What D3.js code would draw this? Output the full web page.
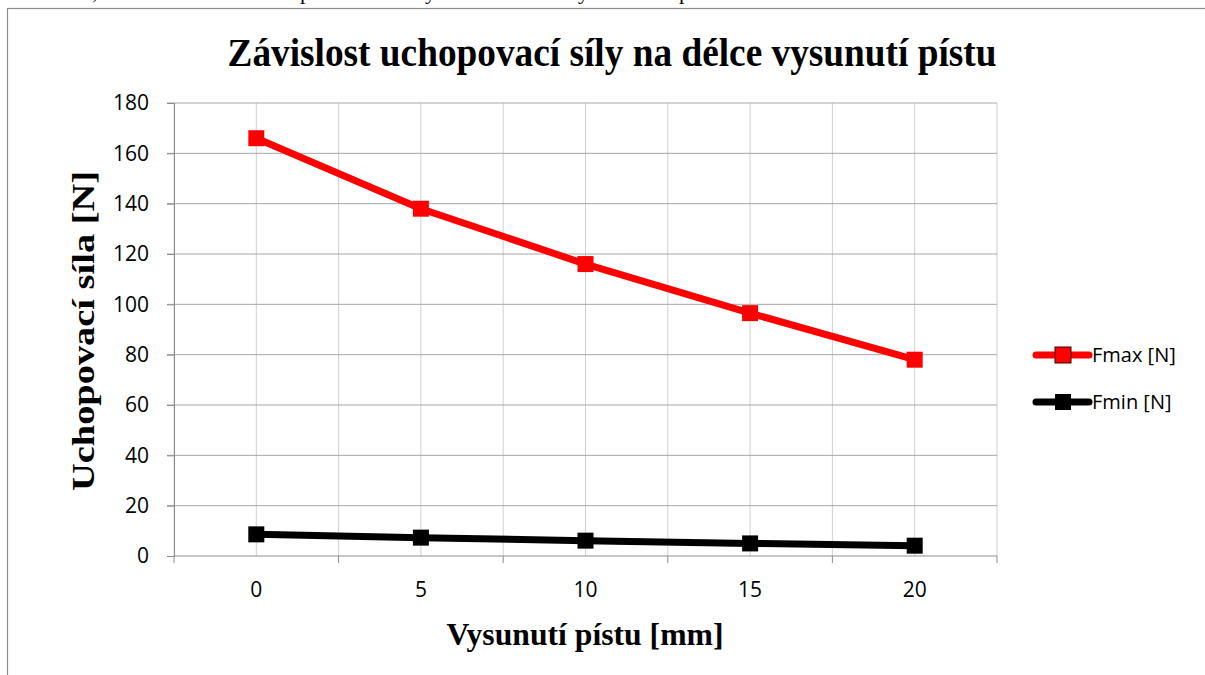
<!DOCTYPE html>
<html>
<head>
<meta charset="utf-8">
<script src="https://cdn.jsdelivr.net/npm/d3@7"></script>
<style>
  body { margin: 0; background: #fff; }
  svg { display: block; }
</style>
</head>
<body>
<svg id="chart" width="1205" height="675"></svg>
<script>
const categories = ["0", "5", "10", "15", "20"];
const fmax = [166, 138, 116, 96.5, 78];
const fmin = [8.6, 7.3, 6.1, 5.0, 4.1];
const yTicks = [0, 20, 40, 60, 80, 100, 120, 140, 160, 180];
const seriesNames = ["Fmax [N]", "Fmin [N]"];
const seriesColors = ["#ff0000", "#000000"];

const svg = d3.select("#chart");
const margin = { top: 103, right: 208, bottom: 119, left: 174 };
const width = 1205 - margin.left - margin.right,
  height = 675 - margin.top - margin.bottom;

const serif = "'Liberation Serif', 'Times New Roman', serif";
const sans = "'Open Sans', 'Noto Sans', sans-serif";

// cut-off text of the page above the chart (only descenders show)
const fragments = [[92, ","], [300, "p"], [425, "y"], [578, "y"], [679, "p"]];
svg.selectAll("text.frag")
  .data(fragments)
  .join("text")
  .attr("class", "frag")
  .attr("x", (d) => d[0])
  .attr("y", -1)
  .attr("font-family", serif)
  .attr("font-size", 22)
  .text((d) => d[1]);

// chart frame
svg.append("rect")
  .attr("x", 7.5)
  .attr("y", 8.5)
  .attr("width", 1210)
  .attr("height", 700)
  .attr("fill", "none")
  .attr("stroke", "#8c8c8c")
  .attr("stroke-width", 1.2);

const x = d3.scaleBand().domain(categories).range([0, width]);
const y = d3.scaleLinear().domain([0, 180]).range([height, 0]);
const cx = (d, i) => x(categories[i]) + x.bandwidth() / 2;

const g = svg.append("g").attr("transform", `translate(${margin.left},${margin.top})`);

// vertical gridlines: at category centres and band boundaries
const vLines = [];
categories.forEach((c) => {
  vLines.push(x(c));
  vLines.push(x(c) + x.bandwidth() / 2);
});
vLines.push(width);
g.selectAll("line.vgrid")
  .data(vLines)
  .join("line")
  .attr("class", "vgrid")
  .attr("x1", (d) => d)
  .attr("x2", (d) => d)
  .attr("y1", 0)
  .attr("y2", height)
  .attr("stroke", "#d0d0d0")
  .attr("stroke-width", 1);

// horizontal gridlines
g.selectAll("line.hgrid")
  .data(yTicks.slice(1))
  .join("line")
  .attr("class", "hgrid")
  .attr("x1", -7)
  .attr("x2", width)
  .attr("y1", (d) => y(d))
  .attr("y2", (d) => y(d))
  .attr("stroke", "#a6a6a6")
  .attr("stroke-width", 1);

// y axis
g.append("g")
  .call(d3.axisLeft(y).tickValues(yTicks).tickSize(7).tickPadding(18))
  .call((a) => a.select(".domain").attr("stroke", "#8c8c8c"))
  .call((a) => a.selectAll(".tick line").attr("stroke", "#8c8c8c"))
  .call((a) => a.selectAll("text").attr("font-family", sans).attr("font-size", 21).attr("fill", "#000"));

// x axis: labels at centres, ticks at boundaries
g.append("g")
  .attr("transform", `translate(0,${height})`)
  .call(d3.axisBottom(x).tickSize(0).tickPadding(26))
  .call((a) => a.select(".domain").attr("stroke", "#8c8c8c").attr("d", `M0,0H${width}`))
  .call((a) => a.selectAll("text").attr("font-family", sans).attr("font-size", 21).attr("fill", "#000"));

const bounds = categories.map((c) => x(c)).concat([width]);
g.selectAll("line.xtick")
  .data(bounds)
  .join("line")
  .attr("class", "xtick")
  .attr("x1", (d) => d)
  .attr("x2", (d) => d)
  .attr("y1", height)
  .attr("y2", height + 7)
  .attr("stroke", "#8c8c8c");

// series
const line = d3.line().x(cx).y((d) => y(d));
[fmax, fmin].forEach((vals, s) => {
  g.append("path")
    .datum(vals)
    .attr("d", line)
    .attr("fill", "none")
    .attr("stroke", seriesColors[s])
    .attr("stroke-width", 7)
    .attr("stroke-linejoin", "round");
  g.selectAll(`rect.m${s}`)
    .data(vals)
    .join("rect")
    .attr("class", `m${s}`)
    .attr("x", (d, i) => cx(d, i) - 8)
    .attr("y", (d) => y(d) - 8)
    .attr("width", 16)
    .attr("height", 16)
    .attr("fill", seriesColors[s]);
});

// title
svg.append("text")
  .attr("x", 612)
  .attr("y", 66)
  .attr("text-anchor", "middle")
  .attr("font-family", serif)
  .attr("font-weight", "bold")
  .attr("font-size", 39)
  .attr("textLength", 769)
  .attr("lengthAdjust", "spacingAndGlyphs")
  .text("Závislost uchopovací síly na délce vysunutí pístu");

// axis titles
svg.append("text")
  .attr("x", 585)
  .attr("y", 645)
  .attr("text-anchor", "middle")
  .attr("font-family", serif)
  .attr("font-weight", "bold")
  .attr("font-size", 31)
  .attr("textLength", 277)
  .attr("lengthAdjust", "spacingAndGlyphs")
  .text("Vysunutí pístu [mm]");

svg.append("text")
  .attr("transform", `translate(94,331) rotate(-90)`)
  .attr("text-anchor", "middle")
  .attr("font-family", serif)
  .attr("font-weight", "bold")
  .attr("font-size", 31)
  .attr("textLength", 320)
  .attr("lengthAdjust", "spacingAndGlyphs")
  .text("Uchopovací síla [N]");

// legend
const legend = svg.append("g").attr("transform", "translate(1034,355)");
seriesNames.forEach((name, s) => {
  const row = legend.append("g").attr("transform", `translate(0,${s * 47})`);
  row.append("line")
    .attr("x1", 2).attr("x2", 55)
    .attr("stroke", seriesColors[s])
    .attr("stroke-width", 7)
    .attr("stroke-linecap", "round");
  row.append("rect")
    .attr("x", 21).attr("y", -8)
    .attr("width", 16).attr("height", 16)
    .attr("fill", seriesColors[s])
    .attr("stroke", s === 0 ? "#400000" : "none")
    .attr("stroke-width", 1);
  row.append("text")
    .attr("x", 58)
    .attr("y", 0)
    .attr("dy", "0.35em")
    .attr("font-family", sans)
    .attr("font-size", 20)
    .text(name);
});
</script>
</body>
</html>
